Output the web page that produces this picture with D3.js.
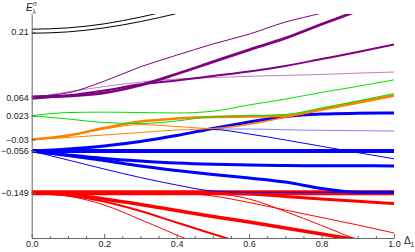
<!DOCTYPE html>
<html>
<head>
<meta charset="utf-8">
<script src="https://d3js.org/d3.v7.min.js"></script>
<style>
  body { margin: 0; background: #fff; }
  text { font-family: "Liberation Sans", Arial, sans-serif; font-size: 9px; fill: #222; }
</style>
</head>
<body>
<div id="chart"></div>
<script>
// sample points along the x axis (Delta_1)
var deltas = [0, 0.1, 0.2, 0.3, 0.4, 0.5, 0.6, 0.7, 0.8, 0.9, 1.0];

var yTickValues = [0.21, 0.064, 0.023, -0.03, -0.056, -0.149];
var xTickValues = [0, 0.2, 0.4, 0.6, 0.8, 1.0];
var xMinorTicks = [0.05, 0.1, 0.15, 0.25, 0.3, 0.35, 0.45, 0.5, 0.55, 0.65, 0.7, 0.75, 0.85, 0.9, 0.95];

// levels (null = off the top / bottom)
var black1 = [0.216, 0.219, 0.228, 0.243, 0.262, null, null, null, null, null, null];
var black2 = [0.207, 0.210, 0.219, 0.233, 0.251, 0.272, null, null, null, null, null];

var purple1 = [0.066, 0.074, 0.100, 0.132, 0.158, 0.183, 0.205, 0.232, 0.252, 0.275, null];
var purple2 = [0.065, 0.067, 0.074, 0.091, 0.116, 0.143, 0.170, 0.196, 0.227, 0.257, null];
var purple3 = [0.061, 0.068, 0.079, 0.093, 0.1015, 0.1115, 0.1215, 0.134, 0.1495, 0.165, 0.182];
var purple4 = [0.063, 0.076, 0.088, 0.098, 0.105, 0.108, 0.111, 0.113, 0.115, 0.118, 0.1205];

var green1 = [0.023, 0.030, 0.031, 0.030, 0.029, 0.033, 0.047, 0.060, 0.075, 0.0885, 0.103];
var green2 = [0.023, 0.0156, 0.0078, 0.0056, 0.0112, 0.0212, 0.0234, 0.0257, 0.0402, 0.0558, 0.0725];

var orange1 = [-0.03, -0.021, -0.0045, 0.010, 0.0167, 0.020, 0.021, 0.023, 0.038, 0.0535, 0.068];
var orange2 = [-0.03, -0.0257, -0.0201, -0.0145, -0.0089, -0.0056, 0.0045, 0.020, 0.0357, 0.0513, 0.067];
var orange3 = [-0.03, -0.0223, -0.0067, 0.0033, -0.0011, -0.0056, 0.0033, 0.019, 0.0346, 0.0502, 0.0663];

var blue1 = [-0.056, -0.0513, -0.0446, -0.0346, -0.0212, -0.0056, 0.0089, 0.0212, 0.0268, 0.0283, 0.029];
var blue2 = [-0.056, -0.0513, -0.0446, -0.0346, -0.0212, -0.0067, -0.0067, -0.0085, -0.0096, -0.0105, -0.0112];
var blue3 = [-0.056, -0.0513, -0.0446, -0.0346, -0.0212, -0.0078, -0.0179, -0.0312, -0.0453, -0.0594, -0.0732];
var blue4 = [-0.056, -0.056, -0.056, -0.056, -0.056, -0.056, -0.056, -0.056, -0.056, -0.056, -0.056];
var blue5 = [-0.056, -0.0647, -0.0725, -0.0781, -0.0826, -0.0855, -0.0871, -0.0882, -0.0886, -0.0888, -0.0893];
var blue6 = [-0.056, -0.0658, -0.077, -0.0893, -0.0993, -0.1083, -0.1161, -0.125, -0.1395, -0.148, -0.148];
var blue7 = [-0.056, -0.0759, -0.096, -0.115, -0.1317, -0.1451, -0.148, -0.148, -0.148, -0.148, -0.148];

var red1 = [-0.149, -0.149, -0.149, -0.149, -0.149, -0.149, -0.149, -0.149, -0.149, -0.149, -0.149];
var red2 = [-0.149, -0.149, -0.149, -0.149, -0.149, -0.150, -0.1518, -0.1574, -0.1629, -0.1681, -0.173];
var red3 = [-0.149, -0.149, -0.149, -0.149, -0.149, -0.151, -0.1629, -0.1908, -0.2221, -0.2545, null];
var red4 = [-0.149, -0.1551, -0.1685, -0.1897, -0.2154, -0.2411, -0.2656, null, null, null, null];
var red5 = [-0.149, -0.1562, -0.1763, -0.2087, -0.2433, -0.2768, null, null, null, null, null];
var red6 = [-0.149, -0.1529, -0.1629, -0.1752, -0.1886, -0.202, -0.2143, -0.2277, -0.2411, -0.2545, null];
var red7 = [-0.149, -0.149, -0.149, -0.149, -0.1495, -0.1562, -0.1708, -0.1875, -0.2042, -0.221, -0.2388];

// drawing order + looks
var layers = [
    { values: red1, color: "#ff0000", width: 5 },
    { values: red2, color: "#ff0000", width: 3 },
    { values: red3, color: "#ff0000", width: 1 },
    { values: red4, color: "#ff0000", width: 2 },
    { values: red5, color: "#ff0000", width: 1 },
    { values: red6, color: "#ff0000", width: 3.5 },
    { values: red7, color: "#ff0000", width: 1 },
    { values: blue4, color: "#0000ff", width: 4 },
    { values: blue5, color: "#0000ff", width: 3 },
    { values: blue6, color: "#0000ff", width: 3 },
    { values: blue7, color: "#0000ff", width: 1 },
    { values: blue2, color: "#0000ff", width: 1, opacity: 0.5 },
    { values: blue3, color: "#0000ff", width: 1 },
    { values: blue1, color: "#0000ff", width: 3 },
    { values: orange2, color: "#ff8000", width: 1 },
    { values: orange3, color: "#ff8000", width: 1 },
    { values: orange1, color: "#ff8000", width: 2.5 },
    { values: green2, color: "#00e000", width: 1 },
    { values: green1, color: "#00e000", width: 1 },
    { values: purple4, color: "#800080", width: 1, opacity: 0.5 },
    { values: purple3, color: "#800080", width: 2 },
    { values: purple2, color: "#800080", width: 2.8 },
    { values: purple1, color: "#800080", width: 1 },
    { values: black1, color: "#000000", width: 1 },
    { values: black2, color: "#000000", width: 1 }
];

var W = 415, H = 252;
var svg = d3.select("#chart").append("svg")
    .attr("width", W)
    .attr("height", H);

var x = d3.scaleLinear().domain([0, 1]).range([31.7, 394]);
var y = d3.scaleLinear().domain([-0.25, 0.25]).range([238, 14]);

svg.append("clipPath").attr("id", "plotclip")
    .append("rect")
    .attr("x", x(0)).attr("y", y(0.25))
    .attr("width", x(1) - x(0)).attr("height", y(-0.25) - y(0.25));

var line = d3.line()
    .defined(function (d) { return d != null; })
    .x(function (d, i) { return x(deltas[i]); })
    .y(function (d) { return y(d); })
    .curve(d3.curveMonotoneX);

var plot = svg.append("g").attr("clip-path", "url(#plotclip)");
layers.forEach(function (l) {
    plot.append("path")
        .attr("d", line(l.values))
        .attr("fill", "none")
        .attr("stroke", l.color)
        .attr("stroke-width", l.width)
        .attr("stroke-opacity", l.opacity || 1)
        .attr("stroke-linejoin", "round");
});

// axes
var fmt = function (d) { return d < 0 ? "\u2212" + Math.abs(d) : String(d); };

svg.append("g")
    .attr("transform", "translate(0," + y(-0.25) + ")")
    .call(d3.axisBottom(x).tickValues(xTickValues).tickSizeInner(-4).tickSizeOuter(0)
        .tickPadding(3).tickFormat(d3.format(".1f")));
svg.append("g")
    .attr("transform", "translate(0," + y(-0.25) + ")")
    .call(d3.axisBottom(x).tickValues(xMinorTicks).tickSizeInner(-2).tickSizeOuter(0).tickFormat(""))
    .select(".domain").remove();

svg.append("g")
    .attr("transform", "translate(" + x(0) + ",0)")
    .call(d3.axisLeft(y).tickValues(yTickValues).tickSizeInner(-4).tickSizeOuter(0)
        .tickPadding(3).tickFormat(fmt));

svg.selectAll(".domain, .tick line").attr("stroke", "#666");
svg.selectAll(".tick text").attr("font-family", null).attr("font-size", null).style("fill", "#222");

// axis labels
var ylab = svg.append("g");
ylab.append("text").attr("x", 26).attr("y", 11).style("font-size", "10px").style("font-style", "italic").text("E");
ylab.append("text").attr("x", 33).attr("y", 5.5).style("font-size", "6.5px").style("font-style", "italic").text("n");
ylab.append("text").attr("x", 32.5).attr("y", 14).style("font-size", "6.5px").text("\u03bb");

var xlab = svg.append("g");
xlab.append("text").attr("x", 404).attr("y", 244).style("font-size", "10px").text("\u0394");
xlab.append("text").attr("x", 410.5).attr("y", 247).style("font-size", "6.5px").text("1");
</script>
</body>
</html>
